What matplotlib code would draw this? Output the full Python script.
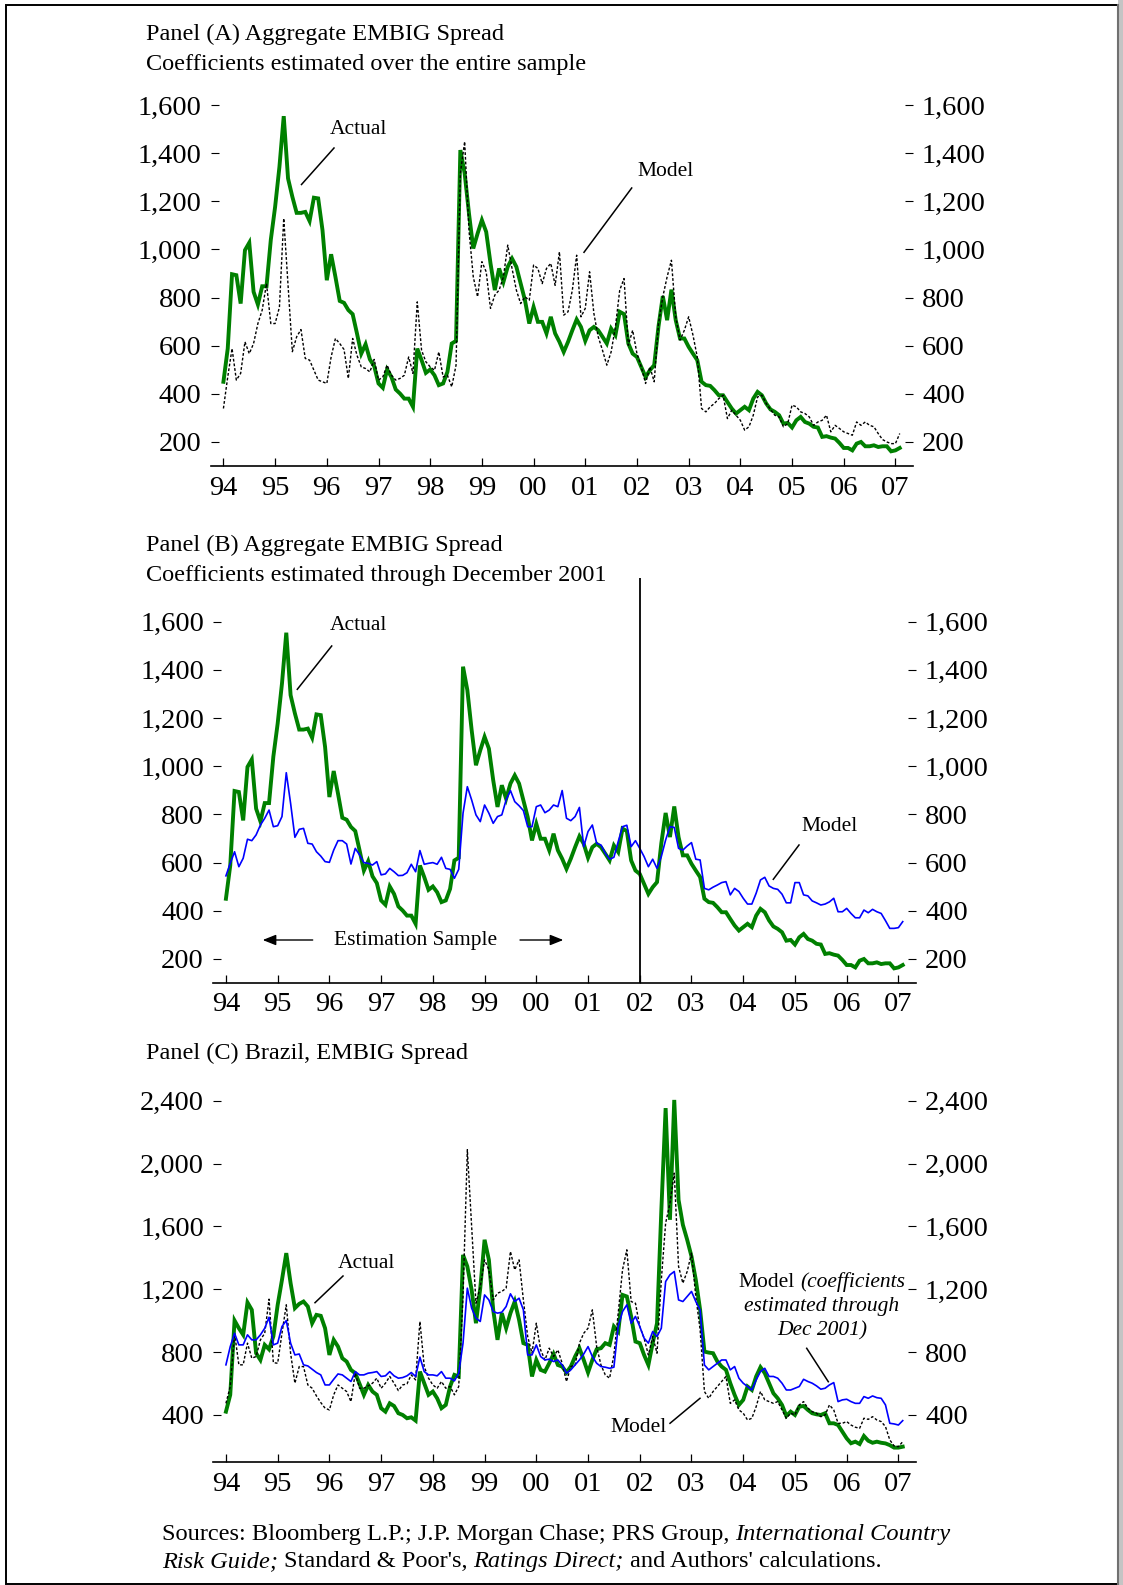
import matplotlib
matplotlib.use("Agg")
import matplotlib.pyplot as plt
import numpy as np
from matplotlib.lines import Line2D
from matplotlib.patches import Rectangle, FancyArrowPatch

plt.rcParams['font.family'] = ['Liberation Serif', 'DejaVu Serif']

W, H = 1123, 1585

# monthly values, Jan 1994 .. Feb 2007 (one row per year)
aggr_actual = [
    450, 588, 897, 893, 775, 997, 1028, 824, 771, 847, 847, 1040,
    1177, 1343, 1554, 1295, 1219, 1152, 1152, 1156, 1118, 1215, 1212, 1080,
    872, 980, 886, 786, 778, 748, 731, 651, 567, 606, 543, 515,
    443, 425, 501, 470, 418, 401, 380, 380, 346, 588, 540, 487,
    501, 477, 436, 443, 491, 609, 620, 1413, 1316, 1150, 1004, 1066,
    1122, 1073, 942, 831, 921, 865, 928, 962, 928, 858, 789, 692,
    761, 699, 699, 651, 720, 651, 616, 574, 616, 664, 709, 678,
    620, 664, 678, 664, 637, 609, 671, 644, 741, 731, 609, 567,
    553, 512, 470, 498, 519, 680, 806, 706, 833, 706, 630, 630,
    595, 567, 540, 450, 436, 433, 415, 394, 394, 366, 339, 318,
    332, 346, 332, 380, 408, 394, 360, 335, 325, 311, 276, 279,
    260, 290, 304, 283, 276, 263, 260, 221, 224, 218, 214, 196,
    175, 175, 165, 193, 200, 182, 182, 186, 179, 182, 182, 161,
    165, 175,
]
aggr_model_full = [
    339, 470, 588, 457, 485, 616, 567, 609, 692, 748, 858, 692,
    692, 760, 1129, 850, 575, 637, 667, 547, 540, 498, 457, 450,
    443, 553, 630, 609, 584, 464, 630, 560, 512, 505, 491, 543,
    457, 470, 519, 477, 457, 464, 477, 553, 485, 782, 581, 533,
    512, 498, 574, 470, 477, 429, 519, 1316, 1448, 1080, 886, 803,
    949, 907, 755, 810, 831, 886, 1018, 921, 831, 775, 803, 789,
    935, 921, 858, 921, 942, 851, 990, 727, 741, 831, 976, 720,
    755, 907, 734, 637, 581, 519, 574, 678, 831, 879, 602, 664,
    567, 512, 443, 512, 450, 692, 803, 886, 955, 720, 623, 664,
    720, 644, 553, 339, 325, 346, 360, 380, 394, 297, 332, 311,
    290, 249, 263, 311, 387, 394, 360, 335, 311, 304, 263, 276,
    353, 346, 325, 318, 304, 269, 283, 290, 311, 242, 269, 256,
    242, 235, 228, 283, 269, 283, 269, 263, 235, 210, 200, 193,
    193, 235,
]
aggr_model_2001 = [
    545, 597, 645, 583, 618, 697, 691, 715, 756, 784, 818, 749,
    753, 791, 973, 846, 705, 738, 742, 680, 677, 645, 627, 604,
    601, 652, 691, 691, 677, 594, 659, 632, 600, 597, 590, 604,
    549, 553, 576, 562, 546, 547, 558, 593, 562, 650, 593, 597,
    600, 593, 622, 576, 572, 535, 572, 805, 915, 860, 798, 770,
    839, 805, 763, 791, 798, 860, 899, 853, 836, 816, 749, 749,
    832, 839, 807, 818, 839, 832, 899, 784, 774, 791, 829, 666,
    729, 756, 680, 673, 639, 614, 622, 687, 749, 755, 666, 691,
    659, 625, 583, 614, 576, 625, 694, 749, 746, 659, 652, 669,
    683, 614, 611, 493, 487, 498, 507, 517, 521, 466, 493, 480,
    452, 428, 428, 473, 528, 539, 503, 493, 489, 469, 433, 433,
    517, 517, 466, 462, 441, 433, 424, 428, 437, 452, 396, 396,
    410, 389, 371, 371, 403, 392, 406, 396, 389, 359, 327, 327,
    330, 355,
]
brazil_actual = [
    421, 528, 1001, 952, 910, 1116, 1069, 793, 750, 846, 818, 900,
    1100, 1260, 1430, 1239, 1080, 1107, 1122, 1090, 984, 1037, 1031, 952,
    782, 878, 835, 761, 740, 687, 666, 598, 528, 591, 549, 528,
    443, 421, 474, 457, 411, 400, 379, 385, 364, 676, 602, 528,
    549, 506, 443, 464, 581, 655, 645, 1419, 1345, 1196, 984, 1207,
    1515, 1387, 1069, 878, 1048, 952, 1048, 1122, 1005, 857, 846, 645,
    750, 687, 676, 729, 788, 718, 708, 670, 708, 772, 825, 750,
    670, 750, 818, 825, 857, 846, 963, 931, 1164, 1154, 1027, 867,
    857, 782, 718, 857, 984, 1700, 2353, 1642, 2405, 1769, 1610, 1515,
    1409, 1260, 1069, 803, 797, 793, 740, 708, 687, 602, 528, 464,
    496, 581, 559, 645, 704, 666, 602, 538, 506, 464, 394, 421,
    400, 453, 457, 432, 411, 404, 400, 411, 347, 347, 336, 294,
    251, 220, 230, 215, 266, 236, 223, 230, 223, 219, 208, 192,
    192, 198,
]
brazil_model_full = [
    474, 581, 920, 719, 719, 857, 761, 772, 878, 920, 1137, 733,
    729, 920, 1101, 793, 602, 708, 708, 591, 570, 521, 479, 443,
    432, 528, 591, 570, 549, 485, 666, 570, 570, 585, 602, 634,
    570, 602, 645, 602, 555, 591, 598, 655, 623, 995, 708, 634,
    591, 570, 613, 570, 581, 528, 581, 1154, 2088, 1600, 1111, 1217,
    1387, 1324, 1132, 1175, 1186, 1207, 1440, 1324, 1387, 1132, 899, 793,
    984, 814, 750, 825, 772, 814, 729, 613, 708, 718, 857, 920,
    952, 1069, 835, 718, 655, 634, 782, 1048, 1324, 1451, 1122, 1111,
    963, 889, 782, 899, 793, 1260, 1621, 1748, 1939, 1345, 1239, 1313,
    1430, 1154, 942, 549, 506, 549, 581, 613, 645, 474, 496, 432,
    411, 368, 379, 453, 549, 496, 485, 474, 485, 432, 379, 411,
    400, 464, 485, 443, 421, 411, 389, 400, 464, 432, 347, 347,
    358, 336, 322, 315, 379, 372, 389, 368, 358, 326, 241, 203,
    198, 230,
]
brazil_model_2001 = [
    719, 835, 920, 846, 846, 910, 878, 878, 910, 952, 1022, 846,
    857, 963, 1001, 857, 782, 788, 719, 712, 691, 670, 655, 591,
    591, 627, 661, 655, 634, 613, 676, 655, 655, 666, 670, 676,
    645, 649, 676, 649, 634, 638, 649, 670, 645, 768, 676, 655,
    655, 649, 676, 634, 634, 617, 666, 857, 1207, 1080, 1016, 995,
    1164, 1132, 1058, 1048, 1054, 1090, 1171, 1122, 1143, 1069, 782, 782,
    846, 772, 750, 755, 740, 750, 718, 666, 687, 718, 750, 788,
    835, 772, 729, 708, 704, 697, 704, 963, 1058, 1101, 984, 1027,
    963, 889, 857, 931, 899, 952, 1249, 1292, 1313, 1132, 1122, 1154,
    1186, 1122, 1069, 718, 687, 708, 729, 750, 750, 687, 708, 634,
    602, 581, 559, 623, 676, 697, 645, 645, 634, 602, 559, 559,
    570, 581, 627, 613, 602, 585, 564, 570, 591, 606, 485, 496,
    500, 485, 474, 474, 517, 506, 521, 510, 506, 464, 347, 343,
    336, 364,
]

year_ticks = list(range(94, 108))
year_labels = ['94', '95', '96', '97', '98', '99', '00', '01', '02', '03', '04', '05', '06', '07']

t = 94 + np.arange(len(aggr_actual)) / 12.0

GREEN = '#008000'
BLUE = '#0000ff'
DOT = (0, (2.0, 1.4))

fig = plt.figure(figsize=(W / 100, H / 100), dpi=100)


def px_axes(left, top, right, bottom):
    return fig.add_axes([left / W, 1 - bottom / H, (right - left) / W, (bottom - top) / H])


def style_axes(ax, ylim, yticks):
    ax.set_xlim(93.75, 107.34)
    ax.set_ylim(*ylim)
    ax.set_xticks(year_ticks)
    ax.set_xticklabels(year_labels)
    ax.set_yticks(yticks)
    ax.set_yticklabels(['{:,}'.format(v) for v in yticks])
    for s in ['left', 'right', 'top']:
        ax.spines[s].set_visible(False)
    ax.spines['bottom'].set_linewidth(1.2)
    ax.tick_params(axis='x', direction='in', length=6, width=0.9, pad=7, labelsize=20.5)
    ax.tick_params(axis='y', direction='in', length=6, width=0.8, pad=6.5, labelsize=20.5,
                   left=True, right=True, labelleft=True, labelright=True)
    ax.patch.set_alpha(0)


def ftext(x, y, s, **kw):
    return fig.text(x / W, 1 - y / H, s, **kw)


def fline(x0, y0, x1, y1, lw=1.1):
    fig.add_artist(Line2D([x0 / W, x1 / W], [1 - y0 / H, 1 - y1 / H], color='black', lw=lw,
                          transform=fig.transFigure))


def runs(x, y, parts, size, ha='left'):
    # pieces of text in different styles, laid side by side on one baseline
    r = fig.canvas.get_renderer()
    texts = [ftext(0, y, s, fontsize=size, style=st, va='baseline', ha='left') for s, st in parts]
    widths = [tx.get_window_extent(r).width for tx in texts]
    gap = size * 100 / 72 * 0.25
    total = sum(widths) + gap * (len(texts) - 1)
    x0 = x - total / 2 if ha == 'center' else x
    for tx, w in zip(texts, widths):
        tx.set_x(x0 / W)
        x0 += w + gap


# Panel A
axA = px_axes(210.5, 81, 913, 466)
axA.plot(t, aggr_actual, color=GREEN, lw=2.8, solid_joinstyle='miter')
axA.plot(t, aggr_model_full, color='black', lw=1.0, linestyle=DOT)
style_axes(axA, (100, 1700), list(range(200, 1601, 200)))

# Panel B
axB = px_axes(213, 578, 916, 982.7)
axB.plot(t, aggr_actual, color=GREEN, lw=2.8, solid_joinstyle='miter')
axB.plot(t, aggr_model_2001, color=BLUE, lw=1.2)
axB.axvline(102, color='black', lw=1.3)
style_axes(axB, (101.6, 1781), list(range(200, 1601, 200)))

# Panel C
axC = px_axes(213, 1085, 916, 1462.3)
axC.plot(t, brazil_actual, color=GREEN, lw=2.8, solid_joinstyle='miter')
axC.plot(t, brazil_model_full, color='black', lw=1.0, linestyle=DOT)
axC.plot(t, brazil_model_2001, color=BLUE, lw=1.2)
style_axes(axC, (98.7, 2500), list(range(400, 2401, 400)))

# panel headings
ftext(146, 34.5, 'Panel (A) Aggregate EMBIG Spread', fontsize=17.5, va='center')
ftext(146, 64.5, 'Coefficients estimated over the entire sample', fontsize=17.5, va='center')
ftext(146, 545, 'Panel (B) Aggregate EMBIG Spread', fontsize=17.5, va='center')
ftext(146, 575, 'Coefficients estimated through December 2001', fontsize=17.5, va='center')
ftext(146, 1053, 'Panel (C) Brazil, EMBIG Spread', fontsize=17.5, va='center')

# annotations panel A
ftext(358.5, 129, 'Actual', fontsize=15.5, ha='center', va='center')
fline(334, 148, 301.5, 184.5)
ftext(665.5, 172, 'Model', fontsize=15.5, ha='center', va='center')
fline(631.7, 188, 584, 252.3)

# annotations panel B
ftext(358.5, 626, 'Actual', fontsize=15.5, ha='center', va='center')
fline(331.7, 646, 297.3, 689.3)
ftext(830, 827, 'Model', fontsize=15.5, ha='center', va='center')
fline(799, 845, 773.3, 879.3)
ftext(416, 940, 'Estimation Sample', fontsize=15.5, ha='center', va='center')
for xa, xb in [(312.7, 262.7), (520, 563.3)]:
    fig.add_artist(FancyArrowPatch((xa / W, 1 - 940 / H), (xb / W, 1 - 940 / H),
                                   transform=fig.transFigure,
                                   arrowstyle='-|>,head_length=8,head_width=3.2',
                                   color='black', lw=1.0, shrinkA=0, shrinkB=0))

# annotations panel C
ftext(366, 1264, 'Actual', fontsize=15.5, ha='center', va='center')
fline(343, 1276, 315, 1302.7)
ftext(639, 1428, 'Model', fontsize=15.5, ha='center', va='center')
fline(670, 1423.3, 700, 1398.3)
runs(822, 1287, [('Model', 'normal'), ('(coefficients', 'italic')], 15.5, ha='center')
runs(822, 1311, [('estimated through', 'italic')], 15.5, ha='center')
runs(822, 1335, [('Dec 2001)', 'italic')], 15.5, ha='center')
fline(806.7, 1348.3, 828.3, 1381.7)

# sources note
runs(161.7, 1540, [('Sources: Bloomberg L.P.; J.P. Morgan Chase; PRS Group,', 'normal'),
                   ('International Country', 'italic')], 17.6)
runs(161.7, 1567, [('Risk Guide;', 'italic'), ("Standard & Poor's,", 'normal'),
                   ('Ratings Direct;', 'italic'), ("and Authors' calculations.", 'normal')], 17.6)

# page frame
fig.add_artist(Rectangle((1118 / W, 0), 5 / W, 1, transform=fig.transFigure,
                         facecolor='#c4c4c4', edgecolor='none'))
fig.add_artist(Rectangle((6 / W, 1 / H), 1111.5 / W, (H - 5.5) / H, transform=fig.transFigure,
                         facecolor='none', edgecolor='black', lw=1.4))
fig.add_artist(Line2D([1118 / W, 1118 / W], [0, 1 - 4.5 / H], color='#707070', lw=1.5,
                      transform=fig.transFigure))

fig.savefig('out.png', dpi=100)
